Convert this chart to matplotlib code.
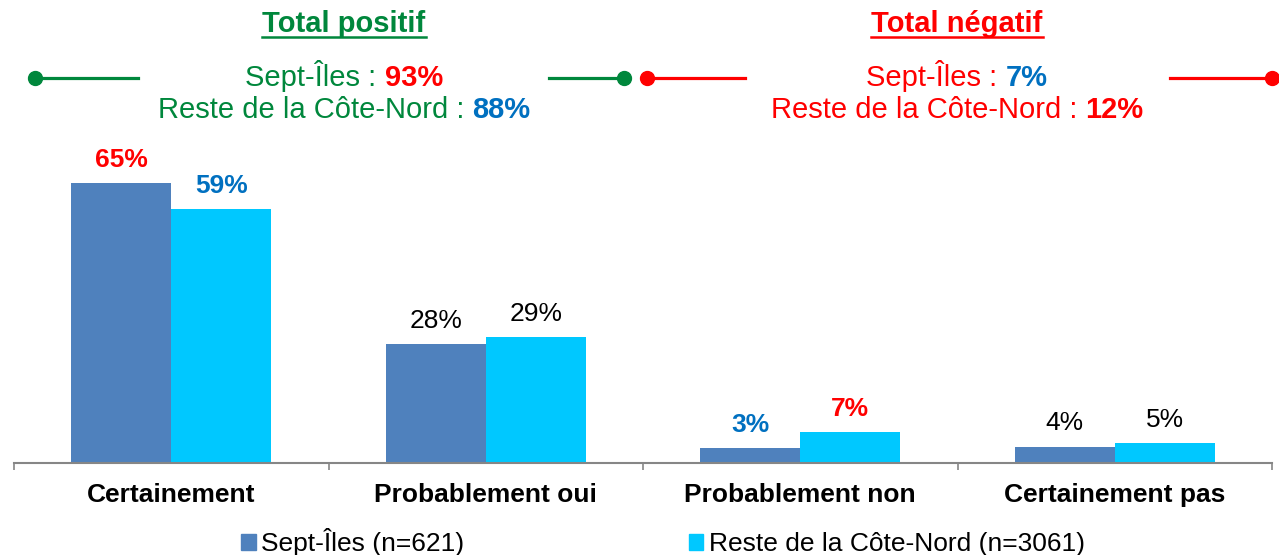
import matplotlib
matplotlib.use("Agg")
import matplotlib.pyplot as plt
from matplotlib.lines import Line2D
from matplotlib.patches import Rectangle
import numpy as np

plt.rcParams['font.family'] = ['Liberation Sans', 'DejaVu Sans']

categories = ["Certainement", "Probablement oui", "Probablement non", "Certainement pas"]
sept_iles = [65.0, 27.5, 3.3, 3.7]
reste = [58.8, 29.1, 7.1, 4.5]
sept_labels = ["65%", "28%", "3%", "4%"]
reste_labels = ["59%", "29%", "7%", "5%"]
series_names = ["Sept-Îles (n=621)", "Reste de la Côte-Nord (n=3061)"]

pos_title = "Total positif"
neg_title = "Total négatif"
pos_totals = ["93%", "88%"]
neg_totals = ["7%", "12%"]

BLUE_BAR = "#4F81BD"
CYAN_BAR = "#00C8FF"
GREEN = "#00873C"
RED = "#FF0000"
BLUE_TXT = "#0070C0"

# label styles per bar (color, bold)
sept_styles = [(RED, True), ("black", False), (BLUE_TXT, True), ("black", False)]
reste_styles = [(BLUE_TXT, True), ("black", False), (RED, True), ("black", False)]

W, H = 1279, 555
fig = plt.figure(figsize=(W / 100, H / 100), dpi=100)


def fx(x):
    return x / W


def fy(y):
    return 1 - y / H


ax = fig.add_axes([fx(14), 92.5 / H, (1272 - 14) / W, 322.9 / H])
x = np.arange(len(categories))
bw = 0.318
b1 = ax.bar(x - bw / 2, sept_iles, bw, color=BLUE_BAR, label=series_names[0])
b2 = ax.bar(x + bw / 2, reste, bw, color=CYAN_BAR, label=series_names[1])

for bars, labels, styles in [(b1, sept_labels, sept_styles), (b2, reste_labels, reste_styles)]:
    for rect, lab, (c, bold) in zip(bars, labels, styles):
        ax.annotate(lab, (rect.get_x() + rect.get_width() / 2, rect.get_height()),
                    xytext=(0, 8), textcoords="offset points", ha="center", va="bottom",
                    fontsize=19, color=c, fontweight="bold" if bold else "normal")

ax.set_xlim(-0.5, 3.5)
ax.set_ylim(0, 75)
ax.set_yticks([])
for s in ["top", "right", "left"]:
    ax.spines[s].set_visible(False)
ax.spines["bottom"].set_color("#868686")
ax.spines["bottom"].set_linewidth(1.5)
ax.set_xticks(x)
ax.set_xticklabels(categories, fontsize=19, fontweight="bold")
ax.tick_params(axis="x", which="major", length=0, pad=15)
ax.set_xticks(np.arange(-0.5, 4, 1), minor=True)
ax.tick_params(axis="x", which="minor", length=5, width=1.2, color="#868686", direction="out")

# legend
handles = [Rectangle((0, 0), 1, 1, color=BLUE_BAR), Rectangle((0, 0), 1, 1, color=CYAN_BAR)]
fig.legend(handles, series_names, loc="center", bbox_to_anchor=(fx(663), fy(542)), ncol=2,
           frameon=False, fontsize=19, handlelength=0.55, handleheight=0.55,
           handletextpad=0.2, columnspacing=8.5, borderpad=0)

renderer = fig.canvas.get_renderer()


def rich_line(xc, y_base, parts):
    # parts: list of (text, color, bold); centered at xc (px), baseline at y_base (px)
    texts = []
    widths = []
    for s, c, bold in parts:
        t = fig.text(0, fy(y_base), s, color=c, fontsize=21,
                     fontweight="bold" if bold else "normal", va="baseline", ha="left")
        widths.append(t.get_window_extent(renderer).width)
        texts.append(t)
    x0 = xc - sum(widths) / 2
    for t, w in zip(texts, widths):
        t.set_x(fx(x0))
        x0 += w
    return sum(widths)


def title(xc, y_base, s, c):
    t = fig.text(fx(xc), fy(y_base), s, color=c, fontsize=21, fontweight="bold",
                 ha="center", va="baseline")
    w = t.get_window_extent(renderer).width
    fig.add_artist(Line2D([fx(xc - w / 2), fx(xc + w / 2)], [fy(y_base + 5), fy(y_base + 5)],
                          color=c, lw=1.8))


def side_lines(x_dot1, x_end1, x_start2, x_dot2, y, c):
    fig.add_artist(Line2D([fx(x_dot1), fx(x_end1)], [fy(y), fy(y)], color=c, lw=2.3))
    fig.add_artist(Line2D([fx(x_dot1)], [fy(y)], color=c, marker="o", markersize=10))
    fig.add_artist(Line2D([fx(x_start2), fx(x_dot2)], [fy(y), fy(y)], color=c, lw=2.3))
    fig.add_artist(Line2D([fx(x_dot2)], [fy(y)], color=c, marker="o", markersize=10))


title(344, 32, pos_title, GREEN)
title(957, 32, neg_title, RED)

rich_line(344, 86, [("Sept-Îles : ", GREEN, False), (pos_totals[0], RED, True)])
rich_line(344, 118, [("Reste de la Côte-Nord : ", GREEN, False), (pos_totals[1], BLUE_TXT, True)])
rich_line(957, 86, [("Sept-Îles : ", RED, False), (neg_totals[0], BLUE_TXT, True)])
rich_line(957, 118, [("Reste de la Côte-Nord : ", RED, False), (neg_totals[1], RED, True)])

side_lines(35, 138, 549, 624, 78, GREEN)
side_lines(647, 745, 1170, 1272, 78, RED)

fig.savefig("out.png", dpi=100)
